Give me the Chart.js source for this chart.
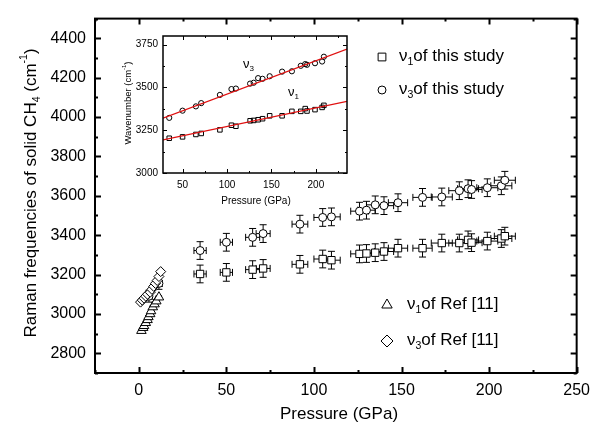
<!DOCTYPE html>
<html>
<head>
<meta charset="utf-8">
<script src="https://cdn.jsdelivr.net/npm/chart.js@4.4.1/dist/chart.umd.min.js"></script>
<style>
  html, body { margin: 0; padding: 0; background: #fff; }
  #wrap { position: relative; width: 598px; height: 433px; }
  #main { position: absolute; left: 0; top: 0; }
  #inset { position: absolute; left: 115px; top: 25px; }
</style>
</head>
<body>
<div id="wrap">
  <canvas id="main" width="598" height="433"></canvas>
  <canvas id="inset" width="245" height="185"></canvas>
</div>
<script>
// this study
const pressure = [35, 50, 65, 71, 92, 105, 110, 126, 130, 135, 140, 148, 162, 173, 183, 188, 190, 199, 207, 209];
const nu1 = [3203, 3211, 3225, 3231, 3252, 3279, 3273, 3305, 3307, 3311, 3317, 3334, 3334, 3360, 3360, 3376, 3362, 3370, 3383, 3395];
const nu3 = [3322, 3364, 3389, 3408, 3456, 3490, 3493, 3522, 3527, 3554, 3550, 3565, 3592, 3594, 3626, 3636, 3632, 3641, 3651, 3679];
const errP = [3.5, 3.5, 4, 4, 4.5, 5, 5, 5, 5, 5, 5.5, 5.5, 5.5, 6, 6, 6, 6, 6, 6, 6];
const errNu = [45, 45, 45, 45, 45, 45, 45, 45, 45, 45, 45, 45, 45, 45, 45, 45, 45, 45, 45, 45];
// low pressure nu3 points of this study
const lowP = [5.8, 11.5];
const lowNu3 = [3090, 3155];
const lowErrP = [2, 2];
const lowErrNu = [30, 30];
// Ref [11]
const refP1 = [1.5, 2.5, 3, 4, 5, 5.5, 6.5, 7, 8, 9, 10, 11.5];
const refNu1 = [2915, 2930, 2940, 2955, 2970, 2985, 3000, 3015, 3035, 3050, 3065, 3085];
const refP3 = [1, 2, 3, 4, 5, 6.5, 7.5, 8.5, 9.5, 10.5, 11.5, 12.5];
const refNu3 = [3060, 3070, 3080, 3090, 3100, 3110, 3125, 3140, 3155, 3170, 3190, 3215];
// inset linear fits
const fitP = [28, 235];
const fitNu1 = [3193, 3418];
const fitNu3 = [3320, 3723];

const xTicks = [0, 50, 100, 150, 200, 250];
const yTicks = [2800, 3000, 3200, 3400, 3600, 3800, 4000, 4200, 4400];
const insetXTicks = [50, 100, 150, 200];
const insetYTicks = [3000, 3250, 3500, 3750];

const FONT = '"Liberation Sans", Arial, sans-serif';

function pts(xs, ys) {
  return xs.map((x, i) => ({ x: x, y: ys[i] }));
}

// text with sub/superscripts; parts = [[text, 'sub'|'sup'|undefined], ...]
function richWidth(ctx, parts, size) {
  let w = 0;
  parts.forEach(p => {
    ctx.font = (p[1] ? size * 0.62 : size) + 'px ' + FONT;
    w += ctx.measureText(p[0]).width;
  });
  return w;
}
function drawRich(ctx, parts, x, y, size) {
  ctx.textAlign = 'left';
  ctx.textBaseline = 'middle';
  ctx.fillStyle = '#000';
  parts.forEach(p => {
    let dy = 0;
    if (p[1] === 'sub') dy = size * 0.35;
    if (p[1] === 'sup') dy = -size * 0.38;
    ctx.font = (p[1] ? size * 0.62 : size) + 'px ' + FONT;
    ctx.fillText(p[0], x, y + dy);
    x += ctx.measureText(p[0]).width;
  });
}

function marker(ctx, style, x, y, r) {
  ctx.save();
  ctx.beginPath();
  if (style === 'rect') {
    const s = r * Math.SQRT1_2;
    ctx.rect(x - s, y - s, 2 * s, 2 * s);
  } else if (style === 'circle') {
    ctx.arc(x, y, r, 0, Math.PI * 2);
  } else if (style === 'triangle') {
    ctx.moveTo(x, y - r);
    ctx.lineTo(x + r * 0.866, y + r * 0.5);
    ctx.lineTo(x - r * 0.866, y + r * 0.5);
    ctx.closePath();
  } else {
    ctx.moveTo(x - r, y);
    ctx.lineTo(x, y - r);
    ctx.lineTo(x + r, y);
    ctx.lineTo(x, y + r);
    ctx.closePath();
  }
  ctx.fillStyle = '#fff';
  ctx.fill();
  ctx.strokeStyle = '#000';
  ctx.lineWidth = 1;
  ctx.stroke();
  ctx.restore();
}

// box around the plot with inward ticks on all four sides
function frameTicks(opts) {
  return {
    id: 'frameTicks',
    afterDraw(chart) {
      const ctx = chart.ctx, a = chart.chartArea;
      const xs = chart.scales.x, ys = chart.scales.y;
      ctx.save();
      ctx.strokeStyle = '#000';
      ctx.lineWidth = opts.lw;
      ctx.strokeRect(a.left, a.top, a.right - a.left, a.bottom - a.top);
      ctx.lineWidth = opts.tlw;
      ctx.beginPath();
      const xt = opts.xTicks, yt = opts.yTicks;
      const xmin = [];
      for (let i = 0; i < xt.length; i++) {
        xmin.push(xt[i] + opts.xStep / 2);
        if (i === 0) xmin.push(xt[i] - opts.xStep / 2);
      }
      const ymin = [];
      for (let i = 0; i < yt.length; i++) {
        ymin.push(yt[i] + opts.yStep / 2);
        if (i === 0) ymin.push(yt[i] - opts.yStep / 2);
      }
      const tx = (v, len) => {
        if (v < xs.min || v > xs.max) return;
        const p = Math.round(xs.getPixelForValue(v)) + 0.5;
        ctx.moveTo(p, a.bottom); ctx.lineTo(p, a.bottom - len);
        ctx.moveTo(p, a.top); ctx.lineTo(p, a.top + len);
      };
      const ty = (v, len) => {
        if (v < ys.min || v > ys.max) return;
        const p = Math.round(ys.getPixelForValue(v)) + 0.5;
        ctx.moveTo(a.left, p); ctx.lineTo(a.left + len, p);
        ctx.moveTo(a.right, p); ctx.lineTo(a.right - len, p);
      };
      xt.forEach(v => tx(v, opts.major));
      xmin.forEach(v => tx(v, opts.minor));
      yt.forEach(v => ty(v, opts.major));
      ymin.forEach(v => ty(v, opts.minor));
      ctx.stroke();
      ctx.restore();
    }
  };
}

const errorBars = {
  id: 'errorBars',
  beforeDatasetsDraw(chart) {
    const ctx = chart.ctx, xs = chart.scales.x, ys = chart.scales.y;
    ctx.save();
    ctx.strokeStyle = '#000';
    ctx.lineWidth = 1;
    ctx.beginPath();
    chart.data.datasets.forEach(ds => {
      if (!ds.errX) return;
      ds.data.forEach((pt, i) => {
        const x = xs.getPixelForValue(pt.x), y = ys.getPixelForValue(pt.y);
        const x0 = xs.getPixelForValue(pt.x - ds.errX[i]);
        const x1 = xs.getPixelForValue(pt.x + ds.errX[i]);
        const c = ds.cap;
        ctx.moveTo(x0, y); ctx.lineTo(x1, y);
        ctx.moveTo(x0, y - c); ctx.lineTo(x0, y + c);
        ctx.moveTo(x1, y - c); ctx.lineTo(x1, y + c);
        if (ds.errY) {
          const y0 = ys.getPixelForValue(pt.y - ds.errY[i]);
          const y1 = ys.getPixelForValue(pt.y + ds.errY[i]);
          ctx.moveTo(x, y0); ctx.lineTo(x, y1);
          ctx.moveTo(x - c, y0); ctx.lineTo(x + c, y0);
          ctx.moveTo(x - c, y1); ctx.lineTo(x + c, y1);
        }
      });
    });
    ctx.stroke();
    ctx.restore();
  }
};

const mainText = {
  id: 'mainText',
  afterDraw(chart) {
    const ctx = chart.ctx;
    ctx.save();
    // x title
    ctx.font = '17px ' + FONT;
    ctx.fillStyle = '#000';
    ctx.textAlign = 'center';
    ctx.textBaseline = 'middle';
    ctx.fillText('Pressure (GPa)', 339, 414);
    // y title
    const yParts = [['Raman frequencies of solid CH'], ['4', 'sub'], [' (cm'], ['-1', 'sup'], [')']];
    ctx.save();
    ctx.translate(31, 193);
    ctx.rotate(-Math.PI / 2);
    const w = richWidth(ctx, yParts, 17);
    drawRich(ctx, yParts, -w / 2, 0, 17);
    ctx.restore();
    // legend
    marker(ctx, 'rect', 382, 57, 5.5);
    drawRich(ctx, [['\u03bd'], ['1', 'sub'], ['of this study']], 399, 56, 17);
    marker(ctx, 'circle', 382, 90, 4);
    drawRich(ctx, [['\u03bd'], ['3', 'sub'], ['of this study']], 399, 89, 17);
    marker(ctx, 'triangle', 387, 305, 6);
    drawRich(ctx, [['\u03bd'], ['1', 'sub'], ['of Ref [11]']], 407, 304, 17);
    marker(ctx, 'diamond', 387, 341, 6);
    drawRich(ctx, [['\u03bd'], ['3', 'sub'], ['of Ref [11]']], 407, 340, 17);
    ctx.restore();
  }
};

const tickFont = { family: FONT, size: 16 };
const plain = v => String(v);

new Chart(document.getElementById('main'), {
  type: 'scatter',
  data: {
    datasets: [
      { data: pts(refP1, refNu1), pointStyle: 'triangle', pointRadius: 5.5, errX: refP1.map(() => 1.5), cap: 2 },
      { data: pts(refP3, refNu3), pointStyle: 'rectRot', pointRadius: 5 },
      { data: pts(lowP, lowNu3), pointStyle: 'circle', pointRadius: 4, errX: lowErrP, errY: lowErrNu, cap: 3.5 },
      { data: pts(pressure, nu1), pointStyle: 'rect', pointRadius: 5.2, errX: errP, errY: errNu, cap: 3.5 },
      { data: pts(pressure, nu3), pointStyle: 'circle', pointRadius: 4, errX: errP, errY: errNu, cap: 3.5 }
    ].map(ds => Object.assign({
      backgroundColor: '#fff',
      borderColor: '#000',
      borderWidth: 1,
      pointBackgroundColor: '#fff',
      pointBorderColor: '#000',
      pointBorderWidth: 1,
      showLine: false
    }, ds))
  },
  options: {
    responsive: false,
    animation: false,
    layout: { padding: { top: 13, right: 16, left: 0, bottom: 0 } },
    plugins: { legend: { display: false }, tooltip: { enabled: false } },
    scales: {
      x: {
        type: 'linear', min: -25, max: 250,
        afterBuildTicks: s => { s.ticks = xTicks.map(v => ({ value: v })); },
        afterFit: s => { s.height = 60; },
        grid: { display: false, drawTicks: false },
        border: { display: false },
        ticks: { font: tickFont, color: '#000', padding: 8, maxRotation: 0, callback: plain }
      },
      y: {
        type: 'linear', min: 2700, max: 4500,
        afterBuildTicks: s => { s.ticks = yTicks.map(v => ({ value: v })); },
        afterFit: s => { s.width = 95; },
        grid: { display: false, drawTicks: false },
        border: { display: false },
        ticks: { font: tickFont, color: '#000', padding: 9, callback: plain }
      }
    }
  },
  plugins: [errorBars, frameTicks({ xTicks: xTicks, yTicks: yTicks, xStep: 50, yStep: 200, major: 6, minor: 3, lw: 2, tlw: 2 }), mainText]
});

const insetText = {
  id: 'insetText',
  afterDraw(chart) {
    const ctx = chart.ctx;
    ctx.save();
    ctx.font = '10px ' + FONT;
    ctx.fillStyle = '#000';
    ctx.textAlign = 'center';
    ctx.textBaseline = 'middle';
    ctx.fillText('Pressure (GPa)', 141, 176);
    const yParts = [['Wavenumber (cm'], ['-1', 'sup'], [')']];
    ctx.save();
    ctx.translate(13, 78);
    ctx.rotate(-Math.PI / 2);
    const w = richWidth(ctx, yParts, 9.5);
    drawRich(ctx, yParts, -w / 2, 0, 9.5);
    ctx.restore();
    drawRich(ctx, [['\u03bd'], ['3', 'sub']], 128, 39, 13);
    drawRich(ctx, [['\u03bd'], ['1', 'sub']], 173, 67, 13);
    ctx.restore();
  }
};

const insetTick = { family: FONT, size: 10 };

new Chart(document.getElementById('inset'), {
  type: 'scatter',
  data: {
    datasets: [
      { type: 'line', data: pts(fitP, fitNu1), borderColor: '#e01010', borderWidth: 1.2, pointRadius: 0, fill: false },
      { type: 'line', data: pts(fitP, fitNu3), borderColor: '#e01010', borderWidth: 1.2, pointRadius: 0, fill: false },
      { data: pts(pressure, nu1), pointStyle: 'rect', pointRadius: 3.2, pointBackgroundColor: 'rgba(255,255,255,0)', pointBorderColor: '#000', pointBorderWidth: 1 },
      { data: pts(pressure, nu3), pointStyle: 'circle', pointRadius: 2.6, pointBackgroundColor: 'rgba(255,255,255,0)', pointBorderColor: '#000', pointBorderWidth: 1 }
    ]
  },
  options: {
    responsive: false,
    animation: false,
    layout: { padding: { top: 8, right: 13, left: 0, bottom: 0 } },
    plugins: { legend: { display: false }, tooltip: { enabled: false } },
    scales: {
      x: {
        type: 'linear', min: 28, max: 235,
        afterBuildTicks: s => { s.ticks = insetXTicks.map(v => ({ value: v })); },
        afterFit: s => { s.height = 37; },
        grid: { display: false, drawTicks: false },
        border: { display: false },
        ticks: { font: insetTick, color: '#000', padding: 6, maxRotation: 0, callback: plain }
      },
      y: {
        type: 'linear', min: 3000, max: 3800,
        afterBuildTicks: s => { s.ticks = insetYTicks.map(v => ({ value: v })); },
        afterFit: s => { s.width = 48; },
        grid: { display: false, drawTicks: false },
        border: { display: false },
        ticks: { font: insetTick, color: '#000', padding: 5, callback: plain }
      }
    }
  },
  plugins: [frameTicks({ xTicks: insetXTicks, yTicks: insetYTicks, xStep: 50, yStep: 250, major: 4, minor: 2, lw: 1.5, tlw: 1 }), insetText]
});
</script>
</body>
</html>
